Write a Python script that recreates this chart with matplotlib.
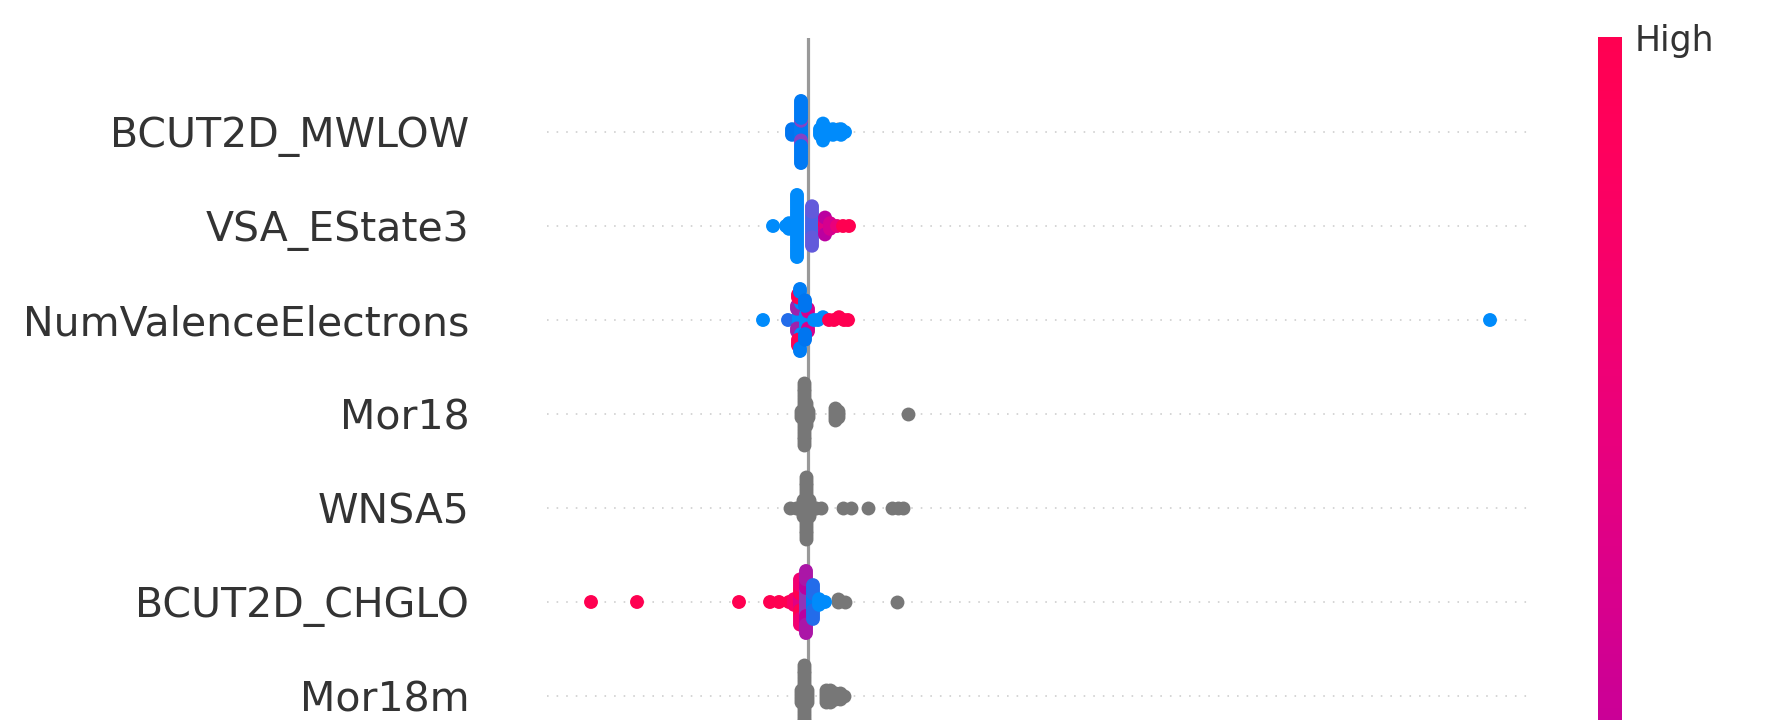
import matplotlib
matplotlib.use("Agg")
import matplotlib.pyplot as plt
import numpy as np
from matplotlib.colors import LinearSegmentedColormap, Normalize
from matplotlib.cm import ScalarMappable

nan = np.nan

# feature names, top to bottom
features = ["BCUT2D_MWLOW", "VSA_EState3", "NumValenceElectrons", "Mor18",
            "WNSA5", "BCUT2D_CHGLO", "Mor18m"]

# each row: shap value, number of samples with that value, normalised feature value (nan = no value)
mwlow_shap = [-0.016, -0.007, -0.007, -0.007, 0.012, 0.015, 0.020, 0.025, 0.030, 0.033, 0.037]
mwlow_count = [3, 6, 3, 14, 3, 7, 3, 3, 2, 3, 1]
mwlow_feat = [0.15, 0.12, 0.4, 0.12, 0.0, 0.0, 0.0, 0.0, nan, 0.0, 0.0]

estate3_shap = [-0.035, -0.022, -0.019, -0.011, 0.004, 0.004, 0.017, 0.017, 0.017, 0.022, 0.029, 0.035, 0.041]
estate3_count = [1, 1, 3, 23, 8, 7, 2, 3, 2, 3, 1, 1, 1]
estate3_feat = [0.0, 0.0, 0.0, 0.0, 0.25, 0.3, 1.0, 0.75, 0.6, 0.7, 0.8, 1.0, 1.0]

valence_shap = [-0.045, -0.020, -0.009, -0.011, -0.007, -0.010, -0.008, -0.002, 0.000, -0.003,
                0.006, 0.010, 0.015, 0.021, 0.026, 0.031, 0.036, 0.040, 0.682]
valence_count = [1, 1, 6, 4, 4, 5, 4, 5, 4, 6, 1, 1, 1, 1, 1, 1, 1, 1, 1]
valence_feat = [0.0, 0.2, 0.0, 0.5, 0.0, 1.0, 0.1, 0.0, 0.7, 0.15,
                0.0, 0.0, 0.0, 1.0, 1.0, 1.0, 1.0, 1.0, 0.0]

mor18_shap = [-0.004, -0.007, 0.000, -0.002, 0.027, 0.030, 0.100]
mor18_count = [23, 3, 3, 9, 5, 3, 1]
mor18_feat = [nan, nan, nan, nan, nan, nan, nan]

wnsa5_shap = [-0.002, -0.005, 0.001, -0.018, -0.012, 0.008, 0.013, 0.035, 0.043, 0.060, 0.084, 0.090, 0.095]
wnsa5_count = [23, 7, 7, 1, 1, 1, 1, 1, 1, 1, 1, 1, 1]
wnsa5_feat = [nan] * 13

chglo_shap = [-0.217, -0.171, -0.069, -0.038, -0.029, -0.019, -0.014,
              -0.008, -0.008, -0.008, -0.002, -0.002, -0.002, 0.005, 0.005,
              0.011, 0.017, 0.030, 0.037, 0.089]
chglo_count = [1, 1, 1, 1, 1, 1, 3,
               5, 6, 6, 9, 6, 8, 5, 8,
               3, 1, 2, 1, 1]
chglo_feat = [1.0, 1.0, 1.0, 1.0, 1.0, 1.0, 0.9,
              0.75, 1.0, 0.85, 0.45, 0.6, 0.55, 0.1, 0.2,
              0.0, 0.0, nan, nan, nan]

mor18m_shap = [-0.004, -0.007, -0.001, 0.018, 0.022, 0.027, 0.032, 0.036]
mor18m_count = [23, 5, 5, 5, 5, 3, 3, 1]
mor18m_feat = [nan] * 8

rows = [
    (mwlow_shap, mwlow_count, mwlow_feat),
    (estate3_shap, estate3_count, estate3_feat),
    (valence_shap, valence_count, valence_feat),
    (mor18_shap, mor18_count, mor18_feat),
    (wnsa5_shap, wnsa5_count, wnsa5_feat),
    (chglo_shap, chglo_count, chglo_feat),
    (mor18m_shap, mor18m_count, mor18m_feat),
]


# shap style red/blue colormap built in LCh space
def lch2rgb(l, c, h):
    a = c * np.cos(h)
    b = c * np.sin(h)
    fy = (l + 16.) / 116.
    fx = fy + a / 500.
    fz = fy - b / 200.

    def finv(t):
        return np.where(t > 0.2068966, t ** 3, (t - 16. / 116.) / 7.787)

    xyz = np.array([0.95047 * finv(fx), finv(fy), 1.08883 * finv(fz)])
    xyz_from_rgb = np.array([[0.412453, 0.357580, 0.180423],
                             [0.212671, 0.715160, 0.072169],
                             [0.019334, 0.119193, 0.950227]])
    rgb = np.linalg.inv(xyz_from_rgb) @ xyz
    rgb = np.where(rgb > 0.0031308, 1.055 * np.power(np.clip(rgb, 1e-12, None), 1 / 2.4) - 0.055, rgb * 12.92)
    return np.clip(rgb, 0, 1)


blue_lch = [54., 70., 4.6588]
l_mid = 40.
red_lch = [54., 90., 0.35470565 + 2 * np.pi]
nsteps = 100
l_vals = list(np.linspace(blue_lch[0], l_mid, nsteps // 2)) + list(np.linspace(l_mid, red_lch[0], nsteps // 2))
c_vals = np.linspace(blue_lch[1], red_lch[1], nsteps)
h_vals = np.linspace(blue_lch[2], red_lch[2], nsteps)
cols = [lch2rgb(l, c, h) for l, c, h in zip(l_vals, c_vals, h_vals)]
red_blue = LinearSegmentedColormap.from_list("red_blue", list(zip(np.linspace(0, 1, nsteps), cols)))


def swarm(vals, row_height=0.4):
    nbins = 100
    quant = np.round(nbins * (vals - vals.min()) / (vals.max() - vals.min() + 1e-8))
    inds = np.argsort(quant, kind="stable")
    layer = 0
    last_bin = -1
    ys = np.zeros(len(vals))
    for ind in inds:
        if quant[ind] != last_bin:
            layer = 0
        ys[ind] = np.ceil(layer / 2) * ((layer % 2) * 2 - 1)
        layer += 1
        last_bin = quant[ind]
    ys *= 0.9 * (row_height / np.max(ys + 1))
    return ys


W, H = 1776, 720
fig = plt.figure(figsize=(W / 100, H / 100), dpi=100)
n = len(features)
unit = 94.0
top = 38.0
ax_h = (n + 1) * unit
ax = fig.add_axes([547 / W, (H - top - ax_h) / H, 984 / W, ax_h / H])

ax.axvline(0, color="#999999", lw=2.3, zorder=-1)
for i, (s, c, f) in enumerate(rows):
    pos = n - 1 - i
    ax.axhline(pos, color="#cccccc", lw=1.15, dashes=(1, 5), zorder=-1)
    shaps = np.repeat(np.array(s, dtype=float), c)
    fvals = np.repeat(np.array(f, dtype=float), c)
    ys = swarm(shaps) + pos
    miss = np.isnan(fvals)
    ax.scatter(shaps[miss], ys[miss], color="#777777", s=100, linewidth=0, zorder=3, rasterized=True)
    ax.scatter(shaps[~miss], ys[~miss], c=fvals[~miss], cmap=red_blue, vmin=0, vmax=1,
               s=100, linewidth=0, alpha=1, zorder=3, rasterized=True)

ax.set_xlim(-0.261, 0.723)
ax.set_ylim(-1, n)
ax.set_yticks(range(n))
ax.set_yticklabels(features[::-1], fontsize=29.5, color="#333333")
ax.tick_params(axis="y", length=0, pad=56)
ax.set_xticks([])
for sp in ax.spines.values():
    sp.set_visible(False)

# colorbar runs down past the bottom of the picture, only its top end is in view
cb_h = 21 * unit
cax = fig.add_axes([1598 / W, (H - 37 - cb_h) / H, 24 / W, cb_h / H])
cb = fig.colorbar(ScalarMappable(norm=Normalize(0, 1), cmap=red_blue), cax=cax, ticks=[1])
cb.set_ticklabels(["High"])
cb.ax.tick_params(labelsize=25, length=0, pad=9, labelcolor="#333333")
cb.outline.set_visible(False)

fig.savefig("out.png", dpi=100)
